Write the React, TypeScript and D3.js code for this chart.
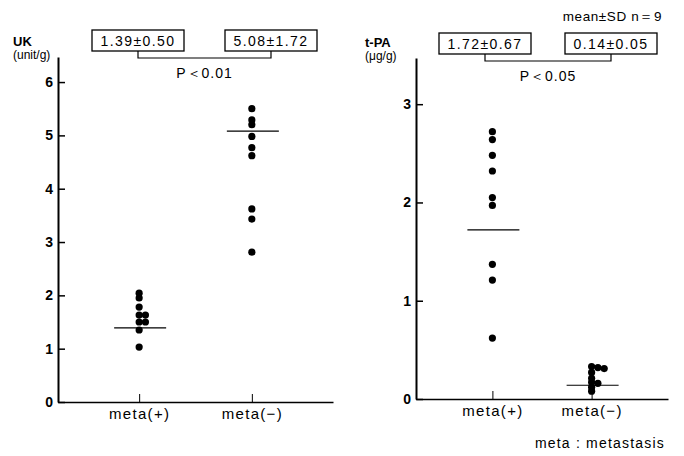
import React, { useEffect, useRef } from 'react';
import * as d3 from 'd3';

// groups on the x axis
const categories = ['meta(+)', 'meta(−)'];

// UK (unit/g), one value per case
const ukMetaPos = [2.04, 1.95, 1.78, 1.63, 1.63, 1.5, 1.5, 1.35, 1.03];
const ukMetaNeg = [5.5, 5.29, 5.2, 4.98, 4.77, 4.62, 3.62, 3.43, 2.81];
const ukMeans = [1.39, 5.08];
const ukSDs = [0.5, 1.72];
const ukTicks = [0, 1, 2, 3, 4, 5, 6];

// t-PA (ug/g)
const tpaMetaPos = [2.72, 2.64, 2.48, 2.32, 2.05, 1.97, 1.37, 1.21, 0.62];
const tpaMetaNeg = [0.33, 0.32, 0.31, 0.27, 0.21, 0.17, 0.16, 0.12, 0.08];
const tpaMeans = [1.72, 0.14];
const tpaSDs = [0.67, 0.05];
const tpaTicks = [0, 1, 2, 3];

const pValues = ['P＜0.01', 'P＜0.05'];

const FONT = "'Liberation Sans', Arial, sans-serif";

type Panel = {
  series: number[][];
  means: number[];
  sds: number[];
  ticks: number[];
  yMax: number;
  left: number;
  right: number;
  top: number;
  bottom: number;
  pad: number;
  title: string;
  unit: string;
  titleX: number;
  boxCenters: number[];
  boxTop: number;
  bracketY: number;
  pText: string;
};

function drawPanel(svg: any, p: Panel) {
  const g = svg.append('g');

  const y = d3.scaleLinear().domain([0, p.yMax]).range([p.bottom, p.top]);
  const x = d3.scalePoint<string>().domain(categories).range([p.left, p.right]).padding(p.pad);

  // y axis, ticks pointing inward
  const yAxis = g.append('g')
    .attr('transform', `translate(${p.left},0)`)
    .call(d3.axisLeft(y).tickValues(p.ticks).tickSizeInner(-7).tickSizeOuter(0).tickPadding(5).tickFormat(d3.format('d')))
    .attr('font-family', FONT)
    .attr('font-size', 14);
  yAxis.select('.domain').attr('stroke-width', 2);
  yAxis.selectAll('.tick line').attr('stroke-width', 1.5);
  yAxis.selectAll('.tick text').attr('font-weight', 'bold').attr('fill', '#000');

  // x axis
  const xAxis = g.append('g')
    .attr('transform', `translate(0,${p.bottom})`)
    .call(d3.axisBottom(x).tickSizeInner(-8).tickSizeOuter(0).tickPadding(6))
    .attr('font-family', FONT)
    .attr('font-size', 15);
  xAxis.select('.domain').attr('stroke-width', 1.6);
  xAxis.selectAll('.tick text').attr('fill', '#000').attr('letter-spacing', 1.3);

  // axis title
  g.append('text')
    .attr('x', p.titleX).attr('y', p.top - 11)
    .attr('font-family', FONT).attr('font-size', 13).attr('font-weight', 'bold')
    .text(p.title);
  g.append('text')
    .attr('x', p.titleX).attr('y', p.top + 2)
    .attr('font-family', FONT).attr('font-size', 12)
    .text(p.unit);

  // dots, dodged sideways where they sit on top of each other
  const step = 6.3;
  categories.forEach((c, i) => {
    const placed: { py: number; k: number }[] = [];
    p.series[i].forEach(v => {
      const py = y(v);
      let k = 0;
      while (placed.some(q => q.k === k && Math.abs(q.py - py) < 3)) k++;
      placed.push({ py, k });
      g.append('circle')
        .attr('cx', (x(c) as number) + k * step)
        .attr('cy', py)
        .attr('r', 3.6)
        .attr('fill', '#000');
    });

    // mean line
    g.append('line')
      .attr('x1', (x(c) as number) - 25)
      .attr('x2', (x(c) as number) + 27)
      .attr('y1', y(p.means[i]))
      .attr('y2', y(p.means[i]))
      .attr('stroke', '#000')
      .attr('stroke-width', 1.2);
  });

  // mean ± SD boxes
  const bw = 92;
  const bh = 21;
  p.boxCenters.forEach((cx, i) => {
    g.append('rect')
      .attr('x', cx - bw / 2).attr('y', p.boxTop)
      .attr('width', bw).attr('height', bh)
      .attr('fill', '#fff').attr('stroke', '#000').attr('stroke-width', 1.3);
    g.append('text')
      .attr('x', cx).attr('y', p.boxTop + 16)
      .attr('text-anchor', 'middle')
      .attr('font-family', FONT).attr('font-size', 14).attr('letter-spacing', 1.4)
      .text(`${p.means[i].toFixed(2)}±${p.sds[i].toFixed(2)}`);
  });

  // bracket + p value
  const [b0, b1] = p.boxCenters;
  g.append('path')
    .attr('d', `M${b0},${p.boxTop + bh}V${p.bracketY}H${b1}V${p.boxTop + bh}`)
    .attr('fill', 'none').attr('stroke', '#000').attr('stroke-width', 1.2);
  g.append('text')
    .attr('x', (b0 + b1) / 2).attr('y', p.bracketY + 20)
    .attr('text-anchor', 'middle')
    .attr('font-family', FONT).attr('font-size', 14).attr('letter-spacing', 1)
    .text(p.pText);
}

const App = () => {
  const ref = useRef<SVGSVGElement>(null);

  useEffect(() => {
    const svg = d3.select(ref.current);
    svg.selectAll('*').remove();

    svg.append('rect').attr('width', 684).attr('height', 456).attr('fill', '#fff');

    drawPanel(svg, {
      series: [ukMetaPos, ukMetaNeg],
      means: ukMeans,
      sds: ukSDs,
      ticks: ukTicks,
      yMax: 6.47,
      left: 58,
      right: 333,
      top: 57,
      bottom: 402,
      pad: 0.72,
      title: 'UK',
      unit: '(unit/g)',
      titleX: 13,
      boxCenters: [138, 271],
      boxTop: 30,
      bracketY: 58,
      pText: pValues[0],
    });

    drawPanel(svg, {
      series: [tpaMetaPos, tpaMetaNeg],
      means: tpaMeans,
      sds: tpaSDs,
      ticks: tpaTicks,
      yMax: 3.47,
      left: 416,
      right: 668,
      top: 58,
      bottom: 399,
      pad: 0.77,
      title: 't-PA',
      unit: '(μg/g)',
      titleX: 365,
      boxCenters: [485, 611],
      boxTop: 33,
      bracketY: 61,
      pText: pValues[1],
    });

    svg.append('text')
      .attr('x', 662).attr('y', 21)
      .attr('text-anchor', 'end')
      .attr('font-family', FONT).attr('font-size', 13.5).attr('letter-spacing', 0.6)
      .text('mean±SD  n＝9');

    svg.append('text')
      .attr('x', 665).attr('y', 448)
      .attr('text-anchor', 'end')
      .attr('font-family', FONT).attr('font-size', 14).attr('letter-spacing', 1.2)
      .text('meta : metastasis');
  }, []);

  return (
    <svg
      ref={ref}
      width={684}
      height={456}
      style={{ position: 'absolute', left: 0, top: 0 }}
    />
  );
};

export default App;
